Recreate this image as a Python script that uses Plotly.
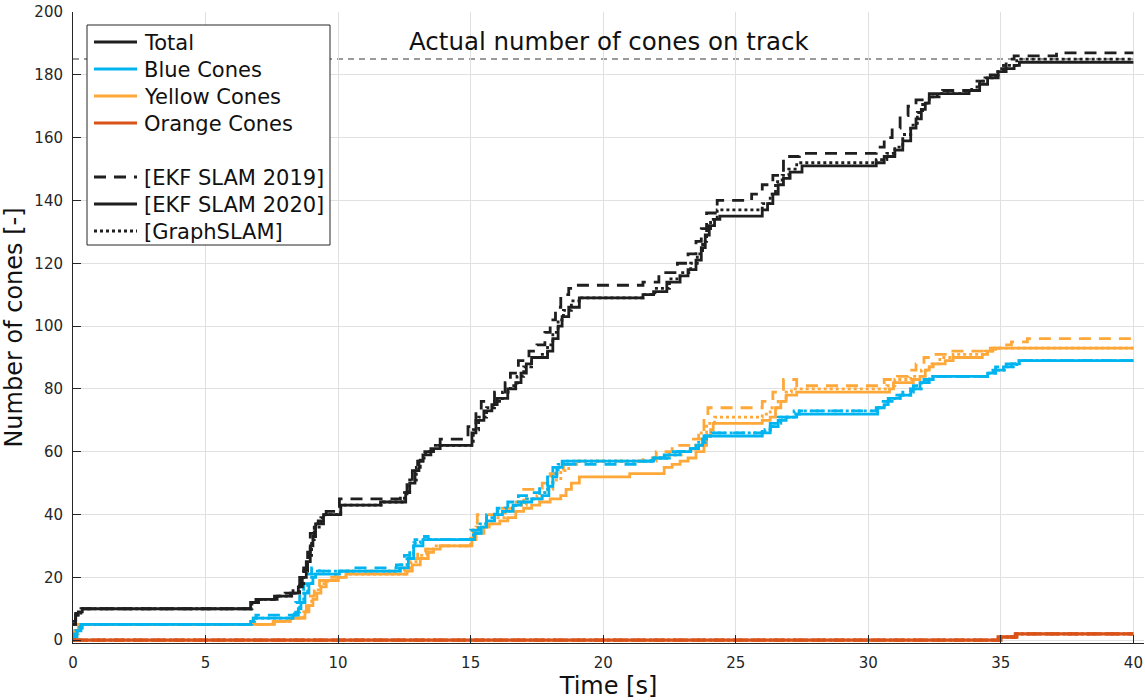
import plotly.graph_objects as go

# ---------------- data (time [s], number of cones) ----------------
TOTAL_2019 = [(0,6),(0.1,9),(0.3,10),(6.8,12),(7.0,13),(7.7,14),(8.0,15),(8.3,17),(8.55,20),(8.7,23),
              (8.85,28),(8.95,34),(9.1,37),(9.25,38),(9.55,41),(10.05,45),(12.35,46),(12.6,50),(12.8,54),
              (13.0,57),(13.2,60),(13.6,62),(13.85,64),(14.9,68),(15.2,73),(15.4,76),(15.9,79),(16.3,82),
              (16.5,85),(16.8,89),(17.2,92),(17.5,94),(17.8,98),(18.0,102),(18.2,106),(18.4,110),(18.7,112),
              (18.9,113),(21.5,114),(22.1,117),(22.8,120),(23.2,123),(23.5,127),(23.7,131),(23.9,136),
              (24.3,140),(25.6,142),(26.0,145),(26.4,148),(26.8,154),(27.4,155),(30.3,157),(30.6,160),
              (30.9,163),(31.2,167),(31.5,170),(31.8,172),(32.2,173),(32.8,175),(33.9,176),(34.2,178),
              (34.6,180),(34.9,182),(35.2,185),(35.5,186),(37.1,187),(40,187)]
TOTAL_2020 = [(0,5),(0.1,8),(0.2,9),(0.35,10),(6.7,12),(6.9,13),(7.6,14),(8.2,15),(8.5,17),(8.65,20),
              (8.8,25),(8.95,30),(9.05,33),(9.15,37),(9.45,40),(10.1,43),(11.6,44),(12.55,47),(12.7,50),
              (12.9,54),(13.05,57),(13.2,59),(13.5,61),(13.85,62),(15.05,66),(15.2,70),(15.5,73),(15.8,75),
              (16.0,77),(16.4,80),(16.7,82),(16.9,85),(17.1,88),(17.3,90),(17.9,92),(18.1,96),(18.3,100),
              (18.45,103),(18.7,106),(19.1,109),(21.5,110),(21.9,111),(22.4,114),(22.9,116),(23.2,118),
              (23.5,121),(23.7,125),(23.85,129),(24.0,132),(24.2,134),(24.4,135),(26.0,137),(26.2,139),
              (26.4,142),(26.6,145),(26.8,147),(27.05,149),(27.5,151),(30.3,152),(30.6,154),(31.0,156),
              (31.3,159),(31.6,163),(31.8,166),(32.0,169),(32.15,171),(32.3,174),(33.8,175),(34.2,177),
              (34.5,179),(34.9,181),(35.2,182),(35.5,183),(35.7,184),(40,184)]
TOTAL_GRAPH = [(0,5),(0.1,8),(0.3,10),(6.75,12),(6.95,13),(7.65,14),(8.25,15),(8.55,18),(8.7,22),
               (8.85,27),(9.0,32),(9.1,36),(9.35,39),(9.5,40),(10.1,43),(11.7,44),(12.5,47),(12.7,51),
               (12.95,55),(13.1,58),(13.3,60),(13.6,62),(15.1,67),(15.3,71),(15.6,74),(15.9,76),(16.2,79),
               (16.5,81),(16.75,84),(17.0,87),(17.3,90),(17.6,91),(17.9,94),(18.1,98),(18.3,102),(18.5,105),
               (18.8,108),(19.1,109),(21.5,110),(21.95,112),(22.5,115),(22.9,117),(23.3,120),(23.55,123),
               (23.75,127),(23.9,131),(24.05,134),(24.3,137),(26.0,139),(26.3,142),(26.5,146),(26.75,148),
               (27.0,150),(27.3,152),(30.3,153),(30.7,155),(31.0,157),(31.3,161),(31.6,164),(31.85,168),
               (32.05,171),(32.3,173),(32.6,174),(33.8,175),(34.1,178),(34.4,179),(34.8,181),(35.1,183),
               (35.6,185),(40,185)]

BLUE_2019 = [(0,0),(0.05,1),(0.15,3),(0.35,5),(6.8,7),(6.9,8),(8.4,12),(8.55,15),(8.7,18),(8.85,21),
             (9.0,23),(9.3,22),(10.6,23),(12.2,24),(12.5,27),(12.7,30),(12.9,32),(13.1,33),(13.4,32),
             (15.0,35),(15.3,37),(15.6,40),(16.0,42),(16.4,44),(16.8,46),(17.3,47),(17.6,49),(17.9,52),
             (18.1,55),(18.3,56),(21.5,57),(21.9,58),(22.5,60),(23.0,61),(23.5,63),(23.8,65),(24.0,66),
             (26.0,67),(26.3,69),(26.6,71),(27.0,72),(27.4,73),(30.3,74),(30.5,76),(30.9,78),(31.3,79),
             (31.7,81),(32.1,83),(32.4,84),(34.5,85),(34.8,87),(35.2,88),(35.6,89),(40,89)]
BLUE_2020 = [(0,0),(0.05,2),(0.15,3),(0.3,5),(6.7,6),(6.8,7),(8.3,8),(8.5,10),(8.6,12),(8.75,15),
             (8.9,18),(9.05,20),(9.15,21),(10.05,22),(12.3,23),(12.65,26),(12.85,30),(13.2,32),(15.15,34),
             (15.4,36),(15.6,38),(15.9,40),(16.2,41),(16.6,43),(16.9,44),(17.3,45),(17.7,46),(17.95,49),
             (18.1,52),(18.25,55),(18.45,57),(21.9,58),(22.3,59),(22.9,60),(23.3,61),(23.6,62),(23.75,64),
             (23.9,65),(26.0,66),(26.3,68),(26.6,70),(26.9,71),(27.3,72),(30.35,74),(30.6,75),(30.75,77),
             (31.2,78),(31.6,80),(31.95,82),(32.3,83),(32.45,84),(34.5,85),(34.7,86),(35.1,87),(35.4,88),
             (35.7,89),(40,89)]
BLUE_GRAPH = [(0,0),(0.1,3),(0.25,5),(6.75,6),(6.85,7),(8.35,9),(8.55,12),(8.7,15),(8.85,18),(9.0,21),
              (9.15,22),(12.35,24),(12.6,27),(12.85,31),(13.1,32),(15.1,34),(15.35,37),(15.6,39),
              (15.9,41),(16.3,42),(16.7,44),(17.1,45),(17.6,47),(17.9,50),(18.1,53),(18.3,56),(18.5,57),
              (21.8,58),(22.4,59),(22.8,60),(23.3,61),(23.6,63),(23.85,65),(24.1,66),(26.1,67),(26.4,69),
              (26.7,71),(27.2,73),(30.3,74),(30.6,76),(30.8,77),(31.2,78),(31.6,80),(32.0,82),(32.3,84),
              (34.5,85),(34.8,86),(35.2,87),(35.6,89),(40,89)]

YELLOW_2019 = [(0,0),(0.05,2),(0.2,5),(7.6,6),(8.1,7),(8.6,9),(8.8,11),(8.95,14),(9.1,17),(9.3,19),
               (9.6,20),(9.9,21),(10.3,22),(12.5,23),(12.75,26),(13.0,28),(13.3,29),(13.6,30),(15.1,36),
               (15.25,40),(16.2,42),(16.6,44),(17.0,48),(17.7,50),(18.0,53),(18.5,56),(18.75,57),
               (21.5,58),(22.0,60),(22.6,62),(23.3,64),(23.6,66),(23.8,71),(23.95,74),(26.0,76),(26.4,79),
               (26.8,83),(27.3,81),(30.6,83),(31.1,84),(31.5,86),(31.8,88),(32.1,90),(32.5,91),(33.0,92),
               (34.6,93),(35.0,94),(35.4,95),(36.0,96),(40,96)]
YELLOW_2020 = [(0,0),(0.05,3),(0.2,5),(7.55,6),(8.2,7),(8.75,9),(8.9,11),(9.05,13),(9.2,15),(9.35,17),
               (9.55,19),(10.0,20),(10.3,21),(12.6,22),(12.8,24),(13.1,26),(13.4,28),(13.6,29),(13.85,30),
               (15.05,32),(15.2,34),(15.5,36),(15.7,37),(16.1,38),(16.4,39),(16.7,41),(17.0,42),(17.3,43),
               (17.6,44),(18.0,45),(18.4,46),(18.6,48),(18.8,50),(19.1,52),(21.0,53),(22.3,55),(22.6,56),
               (22.9,57),(23.2,58),(23.5,60),(23.8,62),(23.9,65),(24.05,67),(24.15,69),(26.0,70),(26.3,71),
               (26.5,74),(26.7,76),(26.9,78),(27.3,79),(30.8,80),(30.95,82),(31.7,83),(31.95,84),(32.15,86),
               (32.3,87),(32.45,88),(32.9,89),(33.2,90),(34.3,91),(34.5,92),(34.7,93),(40,93)]
YELLOW_GRAPH = [(0,0),(0.1,3),(0.25,5),(7.6,6),(8.15,7),(8.7,9),(8.85,11),(9.0,14),(9.15,16),(9.35,18),
                (9.6,19),(10.0,20),(10.3,21),(12.55,22),(12.75,25),(13.05,27),(13.35,29),(13.7,30),
                (15.0,33),(15.2,36),(15.5,37),(15.9,39),(16.3,41),(16.7,43),(17.1,45),(17.5,46),(17.8,48),
                (18.1,51),(18.4,54),(18.7,56),(19.0,57),(22.0,58),(22.5,59),(23.0,60),(23.4,62),(23.7,66),
                (23.9,69),(24.2,71),(26.0,72),(26.3,74),(26.6,76),(26.9,79),(27.1,80),(30.7,81),(31.0,83),
                (31.6,84),(32.0,86),(32.3,88),(32.7,90),(33.2,91),(34.4,92),(34.8,93),(40,93)]

ORANGE_2019 = [(0,0),(35.0,1),(35.6,2),(40,2)]
ORANGE_2020 = [(0,0),(34.9,1),(35.55,2),(40,2)]
ORANGE_GRAPH = [(0,0),(34.95,1),(35.5,2),(40,2)]

ACTUAL_CONES = 185
X_TICKS = [0, 5, 10, 15, 20, 25, 30, 35, 40]
Y_TICKS = [0, 20, 40, 60, 80, 100, 120, 140, 160, 180, 200]

CLASS_NAMES = ["Total", "Blue Cones", "Yellow Cones", "Orange Cones"]
METHOD_NAMES = ["[EKF SLAM 2019]", "[EKF SLAM 2020]", "[GraphSLAM]"]

# ---------------- styles ----------------
BLACK = "#1f1f1f"
BLUE = "#00B4F0"
YELLOW = "#FFA83A"
ORANGE = "#D95319"
LW = 2.8
DASHES = ["12px,8px", "solid", "3px,3px"]
FONT = "DejaVu Sans"
W, H = 1145, 700
ML, MR, MT, MB = 73, 1, 12, 57
PW, PH = W - ML - MR, H - MT - MB


def px(xp):
    return (xp - ML) / PW


def py(yp):
    return (H - MB - yp) / PH


fig = go.Figure()

groups = [
    (YELLOW, [YELLOW_2019, YELLOW_2020, YELLOW_GRAPH]),
    (BLUE, [BLUE_2019, BLUE_2020, BLUE_GRAPH]),
    (BLACK, [TOTAL_2019, TOTAL_2020, TOTAL_GRAPH]),
    (ORANGE, [ORANGE_2019, ORANGE_2020, ORANGE_GRAPH]),
]
for color, series in groups:
    for data, dash in zip(series, DASHES):
        t = [p[0] for p in data]
        n = [p[1] for p in data]
        w = LW + 0.6 if color == ORANGE else LW
        fig.add_trace(go.Scatter(x=t, y=n, mode="lines", line=dict(color=color, width=w, dash=dash, shape="hv"),
                                 showlegend=False, hoverinfo="skip"))

fig.add_shape(type="line", xref="x", yref="y", x0=0, x1=40, y0=ACTUAL_CONES, y1=ACTUAL_CONES,
              line=dict(color="#7a7a7a", width=1.5, dash="6px,5px"), layer="below")
fig.add_annotation(x=20.2, y=190.5, xref="x", yref="y", text="Actual number of cones on track",
                   showarrow=False, font=dict(family=FONT, size=24.5, color="#111111"))

# ---------------- manual legend (box, sample lines, labels) ----------------
fig.add_shape(type="rect", xref="paper", yref="paper", x0=px(87), x1=px(330), y0=py(245), y1=py(25),
              line=dict(color="#262626", width=1), fillcolor="white", layer="above")
entries = [(n, c, "solid") for n, c in zip(CLASS_NAMES, [BLACK, BLUE, YELLOW, ORANGE])]
entries += [(n, BLACK, d) for n, d in zip(METHOD_NAMES, DASHES)]
rows = [42, 69, 96, 123, 177, 204, 231]
for (name, color, dash), yy in zip(entries, rows):
    fig.add_shape(type="line", xref="paper", yref="paper", x0=px(94), x1=px(137), y0=py(yy), y1=py(yy),
                  line=dict(color=color, width=LW, dash=dash), layer="above")
    fig.add_annotation(x=px(142), y=py(yy + 1), xref="paper", yref="paper", text=name, showarrow=False,
                       xanchor="left", yanchor="middle", font=dict(family=FONT, size=21, color="#111111"))

axis_common = dict(showgrid=True, gridcolor="#e0e0e0", gridwidth=1, zeroline=False,
                   showline=True, linecolor="#262626", linewidth=1, ticks="inside", ticklen=8,
                   tickcolor="#262626", tickfont=dict(family=FONT, size=15, color="#262626"),
                   ticklabelstandoff=6)

fig.update_layout(
    width=W, height=H,
    margin=dict(l=ML, r=MR, t=MT, b=MB),
    paper_bgcolor="white", plot_bgcolor="white",
    font=dict(family=FONT),
    showlegend=False,
    xaxis=dict(range=[0, 40.4], tickvals=X_TICKS,
               title=dict(text="Time [s]", font=dict(family=FONT, size=24, color="#111111"), standoff=4),
               **axis_common),
    yaxis=dict(range=[-0.9, 200], tickvals=Y_TICKS,
               title=dict(text="Number of cones [-]", font=dict(family=FONT, size=24, color="#111111"), standoff=4),
               **axis_common),
)

fig.write_html("out.html")
